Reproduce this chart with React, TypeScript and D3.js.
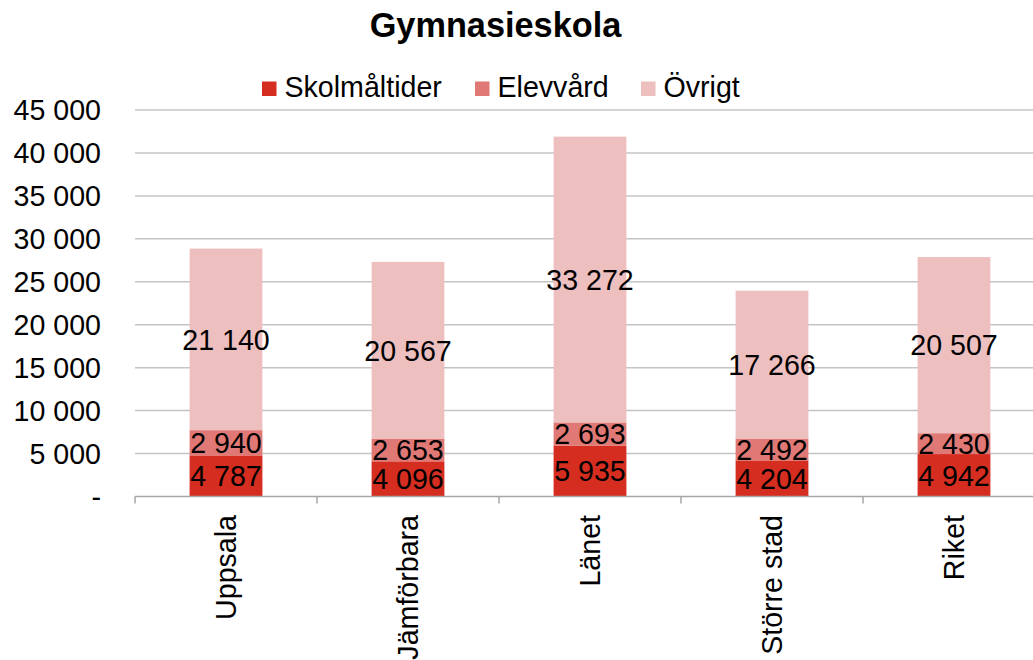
import React from 'react';
import * as d3 from 'd3';

// Categories and series
const categories = ['Uppsala', 'Jämförbara', 'Länet', 'Större stad', 'Riket'];
const seriesNames = ['Skolmåltider', 'Elevvård', 'Övrigt'];
const skolmaltider = [4787, 4096, 5935, 4204, 4942];
const elevvard = [2940, 2653, 2693, 2492, 2430];
const ovrigt = [21140, 20567, 33272, 17266, 20507];
const yTicks = [0, 5000, 10000, 15000, 20000, 25000, 30000, 35000, 40000, 45000];
const colors = ['#d52d1f', '#e07975', '#edbfbf'];

const FONT = '"Liberation Sans", Arial, sans-serif';

function App() {
  const svgRef = React.useRef<SVGSVGElement>(null);
  const width = 1033;
  const height = 660;
  const margin = { top: 110, left: 135, bottom: 496.5 };
  const plotRight = 1045;

  React.useEffect(() => {
    const rows = categories.map((c, i) => ({
      cat: c,
      'Skolmåltider': skolmaltider[i],
      'Elevvård': elevvard[i],
      'Övrigt': ovrigt[i],
    }));
    const stacked = d3.stack<any>().keys(seriesNames)(rows);

    const x = d3.scaleBand().domain(categories).range([margin.left, plotRight]).paddingInner(0).paddingOuter(0);
    const y = d3.scaleLinear().domain([0, 45000]).range([margin.bottom, margin.top]);
    const barW = x.bandwidth() * 0.4;
    const fmt = (v: number) => (v === 0 ? '-' : d3.format(',')(v).replace(/,/g, ' '));

    const svg = d3.select(svgRef.current);
    svg.selectAll('*').remove();

    // gridlines
    svg.append('g')
      .selectAll('line')
      .data(yTicks.filter((t) => t > 0))
      .enter()
      .append('line')
      .attr('x1', margin.left)
      .attr('x2', plotRight)
      .attr('y1', (d) => y(d))
      .attr('y2', (d) => y(d))
      .attr('stroke', '#c4c4c4')
      .attr('stroke-width', 1.5);

    // y labels
    svg.append('g')
      .selectAll('text')
      .data(yTicks)
      .enter()
      .append('text')
      .attr('x', 101)
      .attr('y', (d) => y(d))
      .attr('dy', '0.36em')
      .attr('text-anchor', 'end')
      .attr('font-family', FONT)
      .attr('font-size', 28.6)
      .attr('fill', '#000')
      .text((d) => fmt(d));

    // bars
    const layers = svg.append('g')
      .selectAll('g')
      .data(stacked)
      .enter()
      .append('g')
      .attr('fill', (_d, i) => colors[i]);
    layers.selectAll('rect')
      .data((d) => d.map((p) => ({ p, cat: p.data.cat })))
      .enter()
      .append('rect')
      .attr('x', (d) => (x(d.cat) as number) + (x.bandwidth() - barW) / 2)
      .attr('width', barW)
      .attr('y', (d) => y(d.p[1]))
      .attr('height', (d) => y(d.p[0]) - y(d.p[1]));

    // data labels
    const labels = svg.append('g');
    stacked.forEach((layer) => {
      layer.forEach((p) => {
        labels.append('text')
          .attr('x', (x(p.data.cat) as number) + x.bandwidth() / 2)
          .attr('y', y((p[0] + p[1]) / 2))
          .attr('dy', '0.36em')
          .attr('text-anchor', 'middle')
          .attr('font-family', FONT)
          .attr('font-size', 28.6)
          .attr('fill', '#000')
          .text(fmt(p[1] - p[0]));
      });
    });

    // x axis line and ticks
    const axis = svg.append('g');
    axis.append('line')
      .attr('x1', margin.left)
      .attr('x2', plotRight)
      .attr('y1', margin.bottom)
      .attr('y2', margin.bottom)
      .attr('stroke', '#a6a6a6')
      .attr('stroke-width', 1.5);
    const bounds = categories.map((c) => x(c) as number).concat([plotRight]);
    axis.selectAll('line.tick')
      .data(bounds)
      .enter()
      .append('line')
      .attr('class', 'tick')
      .attr('x1', (d) => d)
      .attr('x2', (d) => d)
      .attr('y1', margin.bottom)
      .attr('y2', margin.bottom + 7)
      .attr('stroke', '#a6a6a6')
      .attr('stroke-width', 1.5);
    axis.selectAll('text')
      .data(categories)
      .enter()
      .append('text')
      .attr('transform', (d) => `translate(${(x(d) as number) + x.bandwidth() / 2},${515}) rotate(-90)`)
      .attr('dy', '0.36em')
      .attr('text-anchor', 'end')
      .attr('font-family', FONT)
      .attr('font-size', 28.6)
      .attr('fill', '#000')
      .text((d) => d);

    // title
    svg.append('text')
      .attr('x', 495.5)
      .attr('y', 37)
      .attr('text-anchor', 'middle')
      .attr('font-family', FONT)
      .attr('font-weight', 'bold')
      .attr('font-size', 34.3)
      .attr('fill', '#000')
      .text('Gymnasieskola');

    // legend
    const legendX = [262, 475, 641];
    const legend = svg.append('g');
    seriesNames.forEach((name, i) => {
      legend.append('rect')
        .attr('x', legendX[i])
        .attr('y', 81.5)
        .attr('width', 14.5)
        .attr('height', 14.5)
        .attr('fill', colors[i]);
      legend.append('text')
        .attr('x', legendX[i] + 22.5)
        .attr('y', 97)
        .attr('font-family', FONT)
        .attr('font-size', 28.6)
        .attr('fill', '#000')
        .text(name);
    });
  }, []);

  return (
    <svg
      ref={svgRef}
      width={width}
      height={height}
      style={{ position: 'absolute', left: 0, top: 0, background: '#fff' }}
    />
  );
}

export default App;
